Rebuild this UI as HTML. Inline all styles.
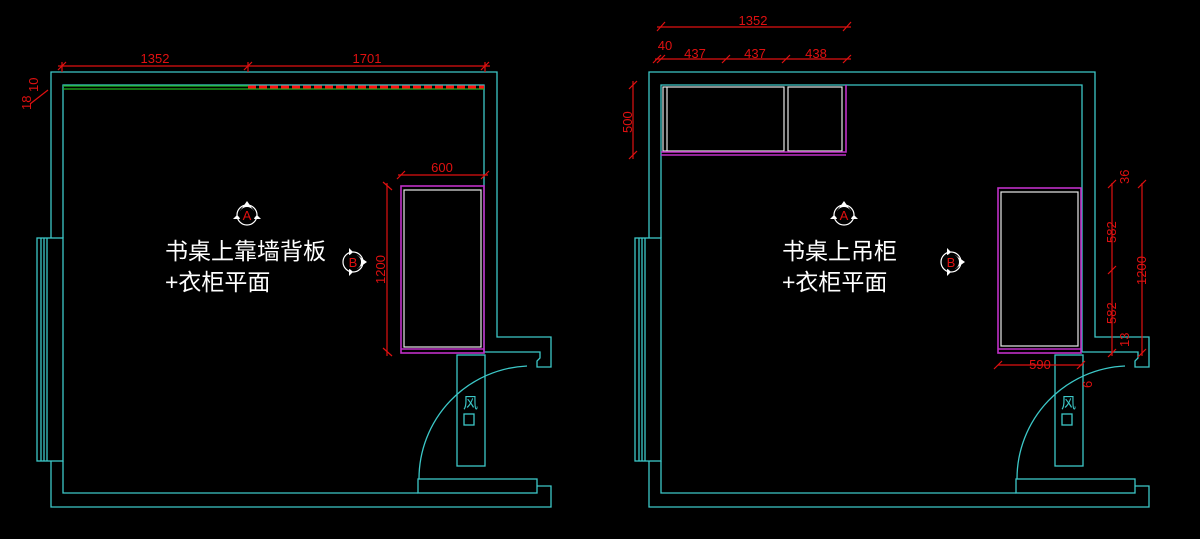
<!DOCTYPE html>
<html><head><meta charset="utf-8"><style>
html,body{margin:0;padding:0;background:#000;width:1200px;height:539px;overflow:hidden}
svg{display:block}
.c{stroke:#3cc8c8;fill:none;stroke-width:1.3}
.r{stroke:#e01010;fill:none;stroke-width:1.2}
.m{stroke:#c030c8;fill:none;stroke-width:1.6}
.w{stroke:#e8e8e8;fill:none;stroke-width:1.2}
.rt{fill:#e01010;font-family:"Liberation Sans",sans-serif;font-size:13px}
.t{fill:#fff;font-family:"Liberation Sans","Noto Sans CJK SC",sans-serif;font-size:23px}
.ct{fill:#3cc8c8;font-family:"Liberation Sans","Noto Sans CJK SC",sans-serif;font-size:15px}
</style></head><body>
<svg width="1200" height="539" viewBox="0 0 1200 539">
<defs>
<g id="room">
  <polyline class="c" points="51,238 51,72 497,72 497,337 551,337 551,367 537,367 537,361 540,358 540,352 484,352"/>
  <polyline class="c" points="63,238 63,85 484,85 484,352"/>
  <polyline class="c" points="51,461 51,507 551,507 551,486 537,486"/>
  <polyline class="c" points="63,461 63,493 418,493"/>
  <rect class="c" x="37" y="238" width="26" height="223"/>
  <line class="c" x1="41" y1="238" x2="41" y2="461"/>
  <line class="c" x1="44" y1="238" x2="44" y2="461"/>
  <line class="c" x1="47" y1="238" x2="47" y2="461"/>
  <rect class="c" x="418" y="479" width="119" height="14"/>
  <path class="c" d="M419,479 A113,113 0 0 1 527,366"/>
  <rect class="c" x="457" y="355" width="28" height="111"/>
  <text class="ct" x="463" y="408">风</text>
  <rect class="c" x="464" y="414" width="10" height="11"/>
</g>
<g id="symA">
  <circle cx="0" cy="0" r="10" fill="#000" stroke="#fff" stroke-width="1.2"/>
  <polygon points="0,-14 -7,-4 7,-4" fill="#fff"/>
  <polygon points="-10,0 -14,4 -6,4" fill="#fff"/>
  <polygon points="10,0 14,4 6,4" fill="#fff"/>
  <circle cx="0" cy="0" r="8" fill="#000"/>
  <text x="0" y="5" text-anchor="middle" style="fill:#e01010;font-family:'Liberation Sans',sans-serif;font-size:13px">A</text>
</g>
<g id="symB">
  <circle cx="0" cy="0" r="10" fill="#000" stroke="#fff" stroke-width="1.2"/>
  <polygon points="14,0 4,-7 4,7" fill="#fff"/>
  <polygon points="0,-10 -4,-14 -4,-6" fill="#fff"/>
  <polygon points="0,10 -4,14 -4,6" fill="#fff"/>
  <circle cx="0" cy="0" r="8" fill="#000"/>
  <text x="0" y="5" text-anchor="middle" style="fill:#e01010;font-family:'Liberation Sans',sans-serif;font-size:13px">B</text>
</g>
</defs>

<use href="#room"/>
<line x1="63" y1="86" x2="248" y2="86" stroke="#20b020" stroke-width="1.2"/>
<line x1="63" y1="89" x2="484" y2="89" stroke="#20b020" stroke-width="1.2"/>
<line x1="248" y1="87" x2="484" y2="87" stroke="#ff1010" stroke-width="3" stroke-dasharray="8,3"/>
<line class="r" x1="58" y1="66" x2="490" y2="66"/>
<line class="r" x1="62" y1="62" x2="62" y2="72"/>
<line class="r" x1="248" y1="62" x2="248" y2="72"/>
<line class="r" x1="485" y1="62" x2="485" y2="72"/>
<line class="r" x1="58" y1="70" x2="66" y2="62"/>
<line class="r" x1="244" y1="70" x2="252" y2="62"/>
<line class="r" x1="481" y1="70" x2="489" y2="62"/>
<text class="rt" x="155" y="63" text-anchor="middle">1352</text>
<text class="rt" x="367" y="63" text-anchor="middle">1701</text>
<text class="rt" transform="translate(31,110) rotate(-90)">18</text>
<text class="rt" transform="translate(38,92) rotate(-90)">10</text>
<line class="r" x1="30" y1="104" x2="48" y2="90"/>
<rect class="m" x="401" y="186" width="83" height="167"/>
<line class="m" x1="401" y1="349" x2="484" y2="349"/>
<rect class="w" x="404" y="190" width="77" height="157"/>
<line class="r" x1="398" y1="175" x2="488" y2="175"/>
<line class="r" x1="397" y1="179" x2="405" y2="171"/>
<line class="r" x1="481" y1="179" x2="489" y2="171"/>
<text class="rt" x="442" y="172" text-anchor="middle">600</text>
<line class="r" x1="387" y1="183" x2="387" y2="356"/>
<line class="r" x1="383" y1="182" x2="392" y2="190"/>
<line class="r" x1="383" y1="348" x2="392" y2="356"/>
<text class="rt" transform="translate(385,284) rotate(-90)">1200</text>
<use href="#symA" x="247" y="215"/>
<use href="#symB" x="353" y="262"/>
<text class="t" x="165" y="259">书桌上靠墙背板</text>
<text class="t" x="165" y="290">+衣柜平面</text>

<use href="#room" x="598"/>
<rect class="w" x="663" y="87" width="121" height="64"/>
<rect class="w" x="788" y="87" width="54" height="64"/>
<line class="w" x1="667" y1="87" x2="667" y2="151"/>
<polyline class="m" points="661,152 846,152 846,85"/>
<line class="m" x1="661" y1="155" x2="846" y2="155"/>
<line class="r" x1="657" y1="27" x2="851" y2="27"/>
<line class="r" x1="657" y1="31" x2="665" y2="22"/>
<line class="r" x1="843" y1="31" x2="851" y2="22"/>
<text class="rt" x="753" y="25" text-anchor="middle">1352</text>
<line class="r" x1="655" y1="59" x2="851" y2="59"/>
<line class="r" x1="653" y1="63" x2="661" y2="55"/>
<line class="r" x1="657" y1="63" x2="665" y2="55"/>
<line class="r" x1="722" y1="63" x2="730" y2="55"/>
<line class="r" x1="782" y1="63" x2="790" y2="55"/>
<line class="r" x1="843" y1="63" x2="851" y2="55"/>
<text class="rt" x="665" y="50" text-anchor="middle">40</text>
<text class="rt" x="695" y="58" text-anchor="middle">437</text>
<text class="rt" x="755" y="58" text-anchor="middle">437</text>
<text class="rt" x="816" y="58" text-anchor="middle">438</text>
<line class="r" x1="633" y1="81" x2="633" y2="159"/>
<line class="r" x1="629" y1="89" x2="637" y2="81"/>
<line class="r" x1="629" y1="159" x2="637" y2="151"/>
<text class="rt" transform="translate(632,133) rotate(-90)">500</text>
<rect class="m" x="998" y="188" width="83" height="165"/>
<line class="m" x1="998" y1="349" x2="1081" y2="349"/>
<rect class="w" x="1001" y="192" width="77" height="154"/>
<line class="r" x1="998" y1="365" x2="1083" y2="365"/>
<line class="r" x1="994" y1="369" x2="1002" y2="361"/>
<line class="r" x1="1077" y1="369" x2="1085" y2="361"/>
<text class="rt" x="1040" y="369" text-anchor="middle">590</text>
<text class="rt" transform="translate(1092,388) rotate(-90)">6</text>
<line class="r" x1="1112" y1="183" x2="1112" y2="356"/>
<line class="r" x1="1108" y1="188" x2="1116" y2="180"/>
<line class="r" x1="1108" y1="274" x2="1116" y2="266"/>
<line class="r" x1="1108" y1="357" x2="1116" y2="349"/>
<text class="rt" transform="translate(1116,243) rotate(-90)">582</text>
<text class="rt" transform="translate(1116,324) rotate(-90)">582</text>
<text class="rt" transform="translate(1129,184) rotate(-90)">36</text>
<text class="rt" transform="translate(1129,347) rotate(-90)">13</text>
<line class="r" x1="1142" y1="183" x2="1142" y2="356"/>
<line class="r" x1="1138" y1="188" x2="1146" y2="180"/>
<line class="r" x1="1138" y1="357" x2="1146" y2="349"/>
<text class="rt" transform="translate(1146,285) rotate(-90)">1200</text>
<use href="#symA" x="844" y="215"/>
<use href="#symB" x="951" y="262"/>
<text class="t" x="782" y="259">书桌上吊柜</text>
<text class="t" x="782" y="290">+衣柜平面</text>
</svg>
</body></html>
